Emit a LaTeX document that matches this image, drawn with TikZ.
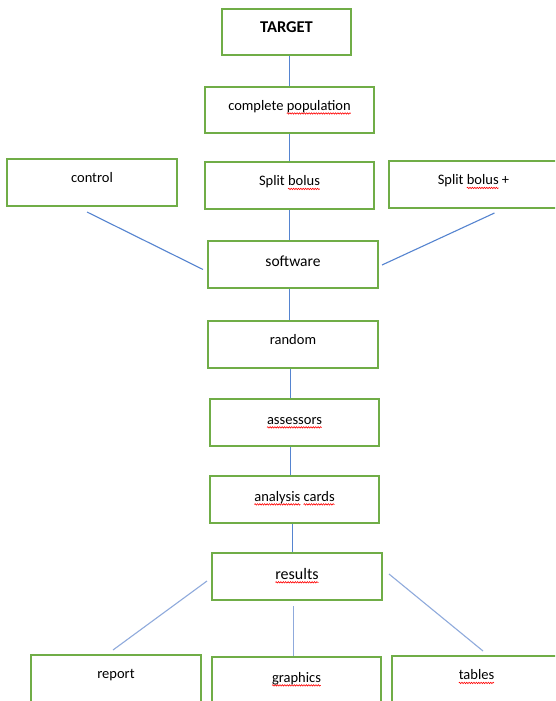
\documentclass[tikz,border=0pt]{standalone}
\usepackage{fontspec}
\setmainfont{Carlito}
\usetikzlibrary{positioning,decorations.pathmorphing}
\definecolor{boxgreen}{HTML}{70AD47}
\definecolor{linkblue}{HTML}{5584D0}
\definecolor{linklight}{HTML}{8FAADC}
\definecolor{spellred}{HTML}{FF0000}
\newlength{\spellwidth}
\newcommand{\spellmark}[1]{\settowidth{\spellwidth}{#1}%
    \tikz[overlay, baseline=0pt]\draw[spellred, line width=0.6pt, decorate,
        decoration={snake, amplitude=0.7pt, segment length=2.4pt}]
        (0pt,-3.2pt) -- (\spellwidth,-3.2pt);%
    #1}

\begin{document}
\begin{tikzpicture}[
    x=1pt, y=-1pt,
    stage/.style={
        draw=boxgreen,
        line width=2pt,
        minimum width=169pt,
        minimum height=47pt,
        inner sep=0pt,
        font=\fontsize{14.5}{17}\selectfont,
        text height=1.4ex,
        text depth=1.3ex
    },
    wide/.style={minimum width=170pt},
    link/.style={draw=linkblue, line width=1.1pt},
    fanlink/.style={draw=linklight, line width=1.1pt}
]
    \useasboundingbox (0,0) rectangle (555,701);
    \clip (0,0) rectangle (555,701);
    \fill[white] (0,0) rectangle (555,701);

    \node[stage, minimum width=129pt, minimum height=46pt, font=\fontsize{16.5}{19}\selectfont\bfseries] (target) at (286.5,32) {TARGET};
    \node[stage, minimum height=46pt] (population) at (289.5,110) {complete \spellmark{population}};
    \node[stage] (split) at (289.5,185.5) {Split \spellmark{bolus}};
    \node[stage, wide] (control) at (92,182.5) {control};
    \node[stage] (splitplus) at (473.5,184.5) {Split \spellmark{bolus} +};
    \node[stage, wide, font=\fontsize{15.5}{18}\selectfont, text depth=0.5ex] (software) at (293,264.5) {software};
    \node[stage, wide] (random) at (293,344.5) {random};
    \node[stage, text depth=0.7ex] (assessors) at (294.5,422.5) {\spellmark{assessors}};
    \node[stage, text depth=0.7ex] (cards) at (294.5,499.5) {\spellmark{analysis} \spellmark{cards}};
    \node[stage, wide, font=\fontsize{16}{19}\selectfont, text depth=0.3ex] (results) at (297,576.5) {\spellmark{results}};
    \node[stage, wide] (report) at (116,678.5) {report};
    \node[stage, text depth=0.7ex] (graphics) at (296.5,680.5) {\spellmark{graphics}};
    \node[stage] (tables) at (476.5,679.5) {\spellmark{tables}};

    % upper chain
    \draw[link] (target.south -| population.north) -- (population.north);
    \draw[link] (population.south) -- (split.north);
    \draw[link] (split.south) -- (split.south |- software.north);

    % side branches into software
    \coordinate (controlend) at ([shift={(-5,5)}]control.south);
    \coordinate (controltip) at ([shift={(-4,5)}]software.west);
    \draw[link] (controlend) -- (controltip);
    \coordinate (plusend) at ([shift={(21,4)}]splitplus.south);
    \coordinate (plustip) at ([shift={(3,0.5)}]software.east);
    \draw[link] (plusend) -- (plustip);

    % lower chain
    \draw[link] ([xshift=-3.5pt]software.south) -- ([xshift=-3.5pt]software.south |- random.north);
    \draw[link] ([xshift=-2.5pt]random.south) -- ([xshift=-2.5pt]random.south |- assessors.north);
    \draw[link] ([xshift=-4pt]assessors.south) -- ([xshift=-4pt]assessors.south |- cards.north);
    \draw[link] ([xshift=-2pt]cards.south) -- ([xshift=-2pt]cards.south |- results.north);

    % outputs
    \coordinate (reportend) at ([shift={(-4,4.5)}]results.west);
    \coordinate (reporttip) at ([shift={(-3,-4)}]report.north);
    \draw[fanlink] (reportend) -- (reporttip);
    \coordinate (graphicsend) at ([shift={(-3.5,5)}]results.south);
    \draw[fanlink] (graphicsend) -- (graphicsend |- graphics.north);
    \coordinate (tablesend) at ([shift={(6,-2.5)}]results.east);
    \coordinate (tablestip) at ([shift={(6.5,-4)}]tables.north);
    \draw[fanlink] (tablesend) -- (tablestip);
\end{tikzpicture}
\end{document}
